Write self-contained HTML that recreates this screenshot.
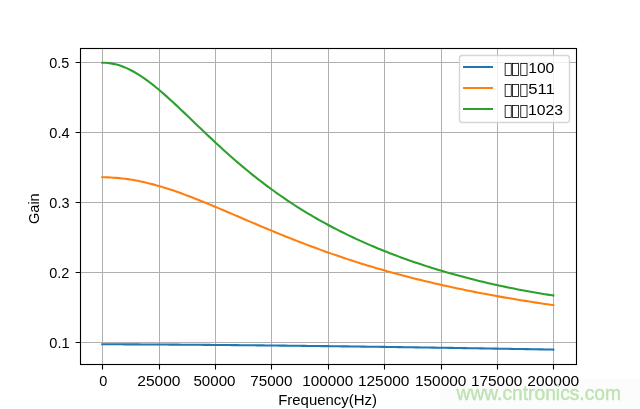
<!DOCTYPE html>
<html><head><meta charset="utf-8"><title>Gain vs Frequency</title>
<style>html,body{margin:0;padding:0;background:#fff;overflow:hidden}svg{display:block;will-change:transform}text{font-family:"Liberation Sans",sans-serif;fill:#000}</style></head><body>
<svg width="640" height="409" viewBox="0 0 640 409">
<rect x="0" y="0" width="640" height="409" fill="#fff"/>
<path d="M102.5 48V365M159.5 48V365M215.5 48V365M271.5 48V365M328.5 48V365M384.5 48V365M441.5 48V365M497.5 48V365M553.5 48V365M80 62.5H577M80 132.5H577M80 202.5H577M80 272.5H577M80 342.5H577" stroke="#b0b0b0" stroke-width="1" fill="none"/>
<g fill="none" stroke-width="2.0833" stroke-linecap="square" stroke-linejoin="round">
<polyline stroke="#1f77b4" points="102.30,344.28 105.12,344.28 107.94,344.29 110.76,344.29 113.58,344.30 116.39,344.31 119.21,344.32 122.03,344.33 124.85,344.34 127.67,344.35 130.49,344.36 133.31,344.38 136.12,344.39 138.94,344.40 141.76,344.42 144.58,344.43 147.40,344.45 150.22,344.46 153.04,344.48 155.86,344.50 158.68,344.52 161.49,344.53 164.31,344.55 167.13,344.57 169.95,344.59 172.77,344.61 175.59,344.63 178.41,344.65 181.22,344.67 184.04,344.69 186.86,344.71 189.68,344.73 192.50,344.76 195.32,344.78 198.14,344.80 200.96,344.82 203.78,344.85 206.59,344.87 209.41,344.90 212.23,344.92 215.05,344.94 217.87,344.97 220.69,345.00 223.51,345.02 226.32,345.05 229.14,345.07 231.96,345.10 234.78,345.13 237.60,345.15 240.42,345.18 243.24,345.21 246.06,345.24 248.88,345.27 251.69,345.29 254.51,345.32 257.33,345.35 260.15,345.38 262.97,345.41 265.79,345.44 268.61,345.47 271.43,345.50 274.24,345.53 277.06,345.56 279.88,345.59 282.70,345.63 285.52,345.66 288.34,345.69 291.16,345.72 293.97,345.75 296.79,345.79 299.61,345.82 302.43,345.85 305.25,345.89 308.07,345.92 310.89,345.95 313.71,345.99 316.52,346.02 319.34,346.06 322.16,346.09 324.98,346.13 327.80,346.16 330.62,346.20 333.44,346.23 336.26,346.27 339.07,346.30 341.89,346.34 344.71,346.38 347.53,346.41 350.35,346.45 353.17,346.49 355.99,346.52 358.81,346.56 361.62,346.60 364.44,346.64 367.26,346.68 370.08,346.71 372.90,346.75 375.72,346.79 378.54,346.83 381.36,346.87 384.18,346.91 386.99,346.95 389.81,346.99 392.63,347.03 395.45,347.07 398.27,347.11 401.09,347.15 403.91,347.19 406.73,347.23 409.54,347.27 412.36,347.31 415.18,347.35 418.00,347.40 420.82,347.44 423.64,347.48 426.46,347.52 429.27,347.56 432.09,347.61 434.91,347.65 437.73,347.69 440.55,347.74 443.37,347.78 446.19,347.82 449.01,347.87 451.83,347.91 454.64,347.95 457.46,348.00 460.28,348.04 463.10,348.09 465.92,348.13 468.74,348.18 471.56,348.22 474.38,348.27 477.19,348.31 480.01,348.36 482.83,348.40 485.65,348.45 488.47,348.50 491.29,348.54 494.11,348.59 496.93,348.63 499.74,348.68 502.56,348.73 505.38,348.78 508.20,348.82 511.02,348.87 513.84,348.92 516.66,348.96 519.48,349.01 522.29,349.06 525.11,349.11 527.93,349.16 530.75,349.21 533.57,349.25 536.39,349.30 539.21,349.35 542.02,349.40 544.84,349.45 547.66,349.50 550.48,349.55 553.30,349.60"/>
<polyline stroke="#ff7f0e" points="102.30,177.31 105.12,177.33 107.94,177.40 110.76,177.51 113.58,177.67 116.39,177.88 119.21,178.13 122.03,178.42 124.85,178.76 127.67,179.14 130.49,179.56 133.31,180.03 136.12,180.54 138.94,181.08 141.76,181.67 144.58,182.29 147.40,182.95 150.22,183.65 153.04,184.38 155.86,185.14 158.68,185.94 161.49,186.77 164.31,187.63 167.13,188.51 169.95,189.43 172.77,190.36 175.59,191.33 178.41,192.32 181.22,193.33 184.04,194.36 186.86,195.41 189.68,196.47 192.50,197.56 195.32,198.66 198.14,199.78 200.96,200.91 203.78,202.05 206.59,203.20 209.41,204.36 212.23,205.53 215.05,206.71 217.87,207.90 220.69,209.09 223.51,210.29 226.32,211.49 229.14,212.69 231.96,213.90 234.78,215.11 237.60,216.32 240.42,217.53 243.24,218.74 246.06,219.94 248.88,221.15 251.69,222.35 254.51,223.55 257.33,224.75 260.15,225.94 262.97,227.13 265.79,228.31 268.61,229.48 271.43,230.66 274.24,231.82 277.06,232.98 279.88,234.13 282.70,235.27 285.52,236.41 288.34,237.53 291.16,238.65 293.97,239.77 296.79,240.87 299.61,241.96 302.43,243.05 305.25,244.13 308.07,245.19 310.89,246.25 313.71,247.30 316.52,248.34 319.34,249.37 322.16,250.39 324.98,251.40 327.80,252.40 330.62,253.39 333.44,254.37 336.26,255.34 339.07,256.30 341.89,257.25 344.71,258.20 347.53,259.13 350.35,260.05 353.17,260.96 355.99,261.87 358.81,262.76 361.62,263.64 364.44,264.52 367.26,265.38 370.08,266.24 372.90,267.08 375.72,267.92 378.54,268.74 381.36,269.56 384.18,270.37 386.99,271.17 389.81,271.96 392.63,272.74 395.45,273.51 398.27,274.27 401.09,275.03 403.91,275.77 406.73,276.51 409.54,277.24 412.36,277.96 415.18,278.67 418.00,279.38 420.82,280.07 423.64,280.76 426.46,281.44 429.27,282.11 432.09,282.78 434.91,283.43 437.73,284.08 440.55,284.72 443.37,285.36 446.19,285.98 449.01,286.60 451.83,287.22 454.64,287.82 457.46,288.42 460.28,289.01 463.10,289.59 465.92,290.17 468.74,290.74 471.56,291.31 474.38,291.87 477.19,292.42 480.01,292.96 482.83,293.50 485.65,294.03 488.47,294.56 491.29,295.08 494.11,295.59 496.93,296.10 499.74,296.61 502.56,297.10 505.38,297.60 508.20,298.08 511.02,298.56 513.84,299.04 516.66,299.51 519.48,299.97 522.29,300.43 525.11,300.88 527.93,301.33 530.75,301.78 533.57,302.22 536.39,302.65 539.21,303.08 542.02,303.50 544.84,303.92 547.66,304.34 550.48,304.75 553.30,305.16"/>
<polyline stroke="#2ca02c" points="102.30,62.77 105.12,62.81 107.94,63.02 110.76,63.37 113.58,63.88 116.39,64.55 119.21,65.36 122.03,66.31 124.85,67.41 127.67,68.64 130.49,70.00 133.31,71.49 136.12,73.10 138.94,74.82 141.76,76.66 144.58,78.59 147.40,80.61 150.22,82.73 153.04,84.92 155.86,87.19 158.68,89.53 161.49,91.93 164.31,94.38 167.13,96.89 169.95,99.43 172.77,102.02 175.59,104.63 178.41,107.28 181.22,109.94 184.04,112.62 186.86,115.32 189.68,118.02 192.50,120.72 195.32,123.43 198.14,126.14 200.96,128.84 203.78,131.53 206.59,134.20 209.41,136.87 212.23,139.52 215.05,142.15 217.87,144.76 220.69,147.35 223.51,149.91 226.32,152.46 229.14,154.97 231.96,157.46 234.78,159.93 237.60,162.36 240.42,164.77 243.24,167.14 246.06,169.49 248.88,171.81 251.69,174.09 254.51,176.35 257.33,178.57 260.15,180.77 262.97,182.93 265.79,185.06 268.61,187.17 271.43,189.24 274.24,191.28 277.06,193.29 279.88,195.27 282.70,197.23 285.52,199.15 288.34,201.05 291.16,202.91 293.97,204.75 296.79,206.56 299.61,208.34 302.43,210.10 305.25,211.83 308.07,213.53 310.89,215.21 313.71,216.86 316.52,218.48 319.34,220.08 322.16,221.66 324.98,223.21 327.80,224.74 330.62,226.25 333.44,227.73 336.26,229.19 339.07,230.63 341.89,232.05 344.71,233.44 347.53,234.82 350.35,236.17 353.17,237.51 355.99,238.82 358.81,240.12 361.62,241.39 364.44,242.65 367.26,243.89 370.08,245.11 372.90,246.31 375.72,247.50 378.54,248.67 381.36,249.82 384.18,250.95 386.99,252.07 389.81,253.17 392.63,254.25 395.45,255.32 398.27,256.38 401.09,257.42 403.91,258.44 406.73,259.45 409.54,260.45 412.36,261.43 415.18,262.40 418.00,263.35 420.82,264.29 423.64,265.21 426.46,266.13 429.27,267.03 432.09,267.91 434.91,268.79 437.73,269.65 440.55,270.50 443.37,271.33 446.19,272.16 449.01,272.97 451.83,273.77 454.64,274.56 457.46,275.34 460.28,276.10 463.10,276.86 465.92,277.60 468.74,278.33 471.56,279.05 474.38,279.76 477.19,280.46 480.01,281.15 482.83,281.83 485.65,282.50 488.47,283.15 491.29,283.80 494.11,284.43 496.93,285.06 499.74,285.67 502.56,286.28 505.38,286.87 508.20,287.46 511.02,288.03 513.84,288.60 516.66,289.15 519.48,289.70 522.29,290.23 525.11,290.76 527.93,291.28 530.75,291.78 533.57,292.28 536.39,292.76 539.21,293.24 542.02,293.71 544.84,294.16 547.66,294.61 550.48,295.05 553.30,295.48"/>
</g>
<path d="M102.5 364.5V369.4M159.5 364.5V369.4M215.5 364.5V369.4M271.5 364.5V369.4M328.5 364.5V369.4M384.5 364.5V369.4M441.5 364.5V369.4M497.5 364.5V369.4M553.5 364.5V369.4M80.5 62.5H75.6M80.5 132.5H75.6M80.5 202.5H75.6M80.5 272.5H75.6M80.5 342.5H75.6" stroke="#000" stroke-width="1.111" fill="none"/>
<rect x="80.5" y="48.5" width="496" height="316" fill="none" stroke="#000" stroke-width="1.111" stroke-linejoin="miter"/>
<rect x="459.5" y="55.5" width="110" height="67" rx="2.78" ry="2.78" fill="#fff" fill-opacity="0.8" stroke="#ccc" stroke-opacity="0.8" stroke-width="1.389"/>
<rect x="463" y="66" width="30" height="2" fill="#1f77b4"/>
<rect x="463" y="87" width="30" height="2" fill="#ff7f0e"/>
<rect x="463" y="108" width="30" height="2" fill="#2ca02c"/>
<rect x="440" y="379" width="200" height="30" fill="#fcfcfc"/>
<g fill="none" stroke="#000" stroke-width="0.8"><rect x="505.14" y="63.50" width="6.13" height="12" /><rect x="512.39" y="63.50" width="6.11" height="12" /><rect x="520.77" y="63.50" width="6.25" height="12" /><rect x="505.14" y="84.50" width="6.13" height="12" /><rect x="512.39" y="84.50" width="6.11" height="12" /><rect x="520.77" y="84.50" width="6.25" height="12" /><rect x="505.14" y="105.50" width="6.13" height="12" /><rect x="512.39" y="105.50" width="6.11" height="12" /><rect x="520.77" y="105.50" width="6.25" height="12" /></g>
<text transform="translate(99.317,385.850) scale(1.0457,1.0200)" font-size="13.89">0</text>
<text transform="translate(137.227,385.850) scale(1.1225,1.0200)" font-size="13.89">25000</text>
<text transform="translate(193.394,385.850) scale(1.0899,1.0200)" font-size="13.89">50000</text>
<text transform="translate(250.305,385.850) scale(1.0933,1.0200)" font-size="13.89">75000</text>
<text transform="translate(302.372,385.850) scale(1.1001,1.0200)" font-size="13.89">100000</text>
<text transform="translate(357.900,385.850) scale(1.1127,1.0200)" font-size="13.89">125000</text>
<text transform="translate(414.939,385.850) scale(1.1117,1.0200)" font-size="13.89">150000</text>
<text transform="translate(470.925,385.850) scale(1.1091,1.0200)" font-size="13.89">175000</text>
<text transform="translate(527.337,385.850) scale(1.1214,1.0200)" font-size="13.89">200000</text>
<text transform="translate(49.374,347.750) scale(1.0520,1.0200)" font-size="13.89">0.1</text>
<text transform="translate(49.300,277.750) scale(1.0424,1.0200)" font-size="13.89">0.2</text>
<text transform="translate(49.366,207.750) scale(1.0390,1.0200)" font-size="13.89">0.3</text>
<text transform="translate(49.268,137.750) scale(1.0538,1.0200)" font-size="13.89">0.4</text>
<text transform="translate(49.305,67.750) scale(1.0388,1.0200)" font-size="13.89">0.5</text>
<text transform="translate(278.221,404.664) scale(1.0764,1.0200)" font-size="13.89">Frequency(Hz)</text>
<text transform="translate(39.493,223.962) rotate(-90) scale(1.0459,1.0200)" font-size="13.89">Gain</text>
<text transform="translate(528.227,72.850) scale(1.1262,1.0200)" font-size="13.89">100</text>
<text transform="translate(528.208,93.790) scale(1.1981,1.0200)" font-size="13.89">511</text>
<text transform="translate(528.045,114.730) scale(1.1321,1.0200)" font-size="13.89">1023</text>
<text transform="translate(456.5,399.6) scale(0.962,1)" font-size="20.0" style="fill:#bfe3b3;stroke:#bfe3b3;stroke-width:0.45px">www.cntronics.com</text>
</svg></body></html>
